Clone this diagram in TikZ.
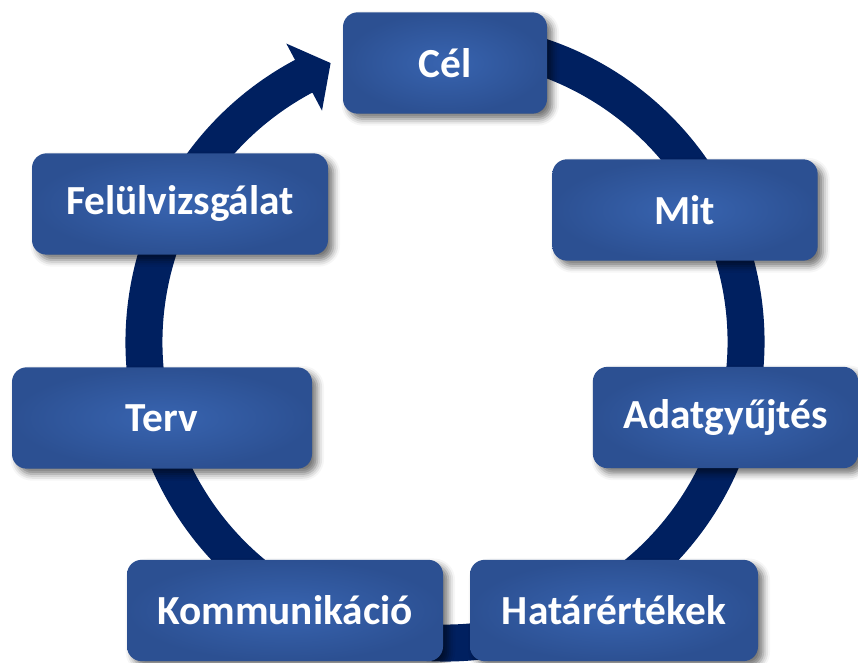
\documentclass[tikz,border=0pt]{standalone}
\usepackage{fontspec}
\setmainfont{Carlito}
\usetikzlibrary{shadows.blur}

\definecolor{gyuru}{RGB}{0,32,96}
\definecolor{dobozbel}{RGB}{56,100,176}
\definecolor{dobozkul}{RGB}{44,80,146}

\begin{document}
\begin{tikzpicture}[x=0.75pt, y=0.75pt,
	lepes/.style={rectangle, rounded corners=11pt, minimum height=76pt,
		inner color=dobozbel, outer color=dobozkul, text=white,
		font=\fontsize{31}{36}\selectfont\bfseries,
		blur shadow={shadow xshift=4pt, shadow yshift=-4pt, shadow blur radius=5pt, shadow opacity=55}}]
	\useasboundingbox (0,0) rectangle (858,663);
	% gyuru a nyillal
	\begin{scope}[shift={(445,321)}]
		\fill[gyuru] (80:319.5) arc[start angle=80, end angle=-242, radius=319.5]
			-- (118:338) -- (112.3:301.5) -- (118:262) -- (118:282.5)
			arc[start angle=-242, end angle=80, radius=282.5] -- cycle;
	\end{scope}
	% lepesek
	\node [lepes, minimum width=153pt] (cel) at (445,600) {Cél};
	\node [lepes, minimum width=199pt] (mit) at (685,453) {Mit};
	\node [lepes, minimum width=199pt] (adat) at (725.5,245.5) {Adatgyűjtés};
	\node [lepes, minimum width=216pt] (hatar) at (614,52.5) {Határértékek};
	\node [lepes, minimum width=237pt] (komm) at (285,52.5) {Kommunikáció};
	\node [lepes, minimum width=225pt] (terv) at (162,245) {Terv};
	\node [lepes, minimum width=222pt] (felul) at (180,459) {Felülvizsgálat};
\end{tikzpicture}
\end{document}
